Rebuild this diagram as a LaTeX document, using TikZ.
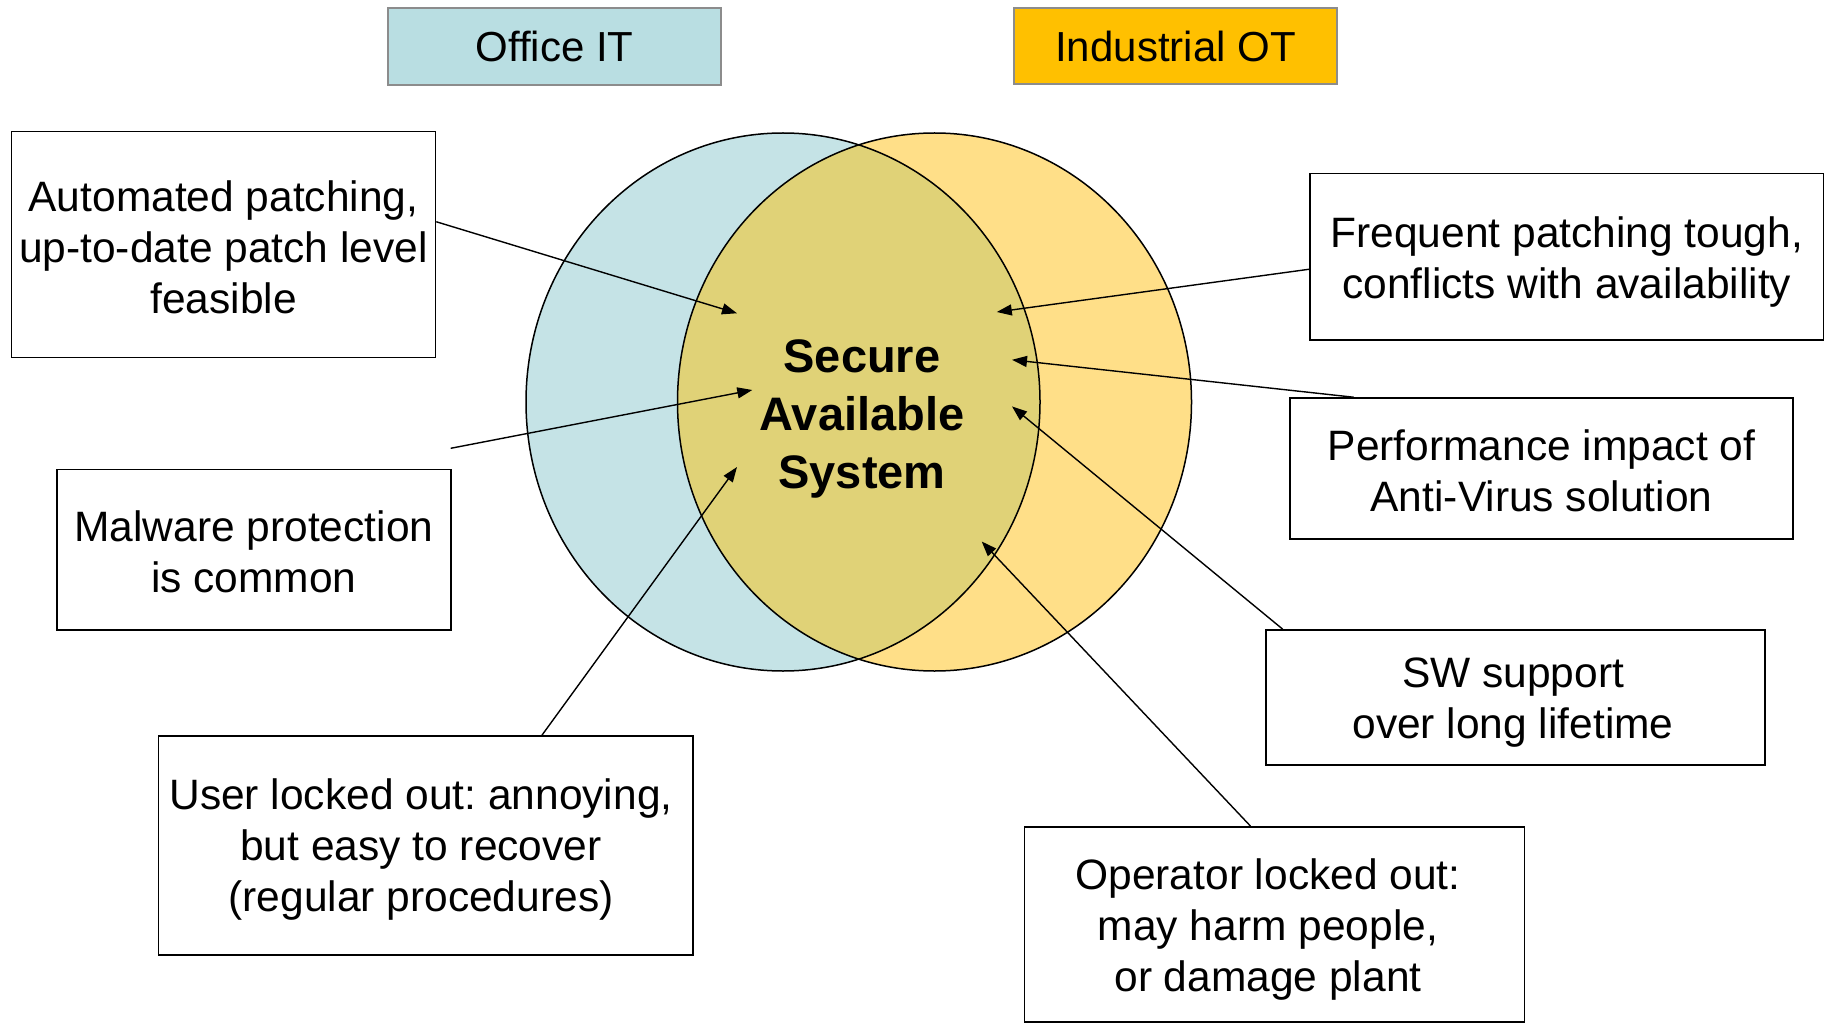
\documentclass[tikz,border=0pt]{standalone}
\usepackage{fontspec}
\setmainfont{Liberation Sans}
\usetikzlibrary{arrows.meta,calc}
\definecolor{itblue}{HTML}{C5E3E6}
\definecolor{ithead}{HTML}{B9DEE2}
\definecolor{otyellow}{HTML}{FFDF88}
\definecolor{othead}{HTML}{FFC000}
\definecolor{overlap}{HTML}{E0D277}
\definecolor{headline}{HTML}{8C8C8C}
\frenchspacing
\begin{document}
\begin{tikzpicture}[x=1pt,y=-1pt,
  txtbox/.style={draw=black, line width=1.5pt, fill=white, inner sep=0pt, align=center,
    font=\fontsize{42.5pt}{51pt}\selectfont},
  txtonly/.style={inner sep=0pt, align=center, font=\fontsize{42.5pt}{51pt}\selectfont},
  headbox/.style={draw=headline, line width=1.8pt, inner sep=0pt, align=center,
    font=\fontsize{42pt}{50pt}\selectfont},
  arr/.style={draw=black, line width=1.4pt, -{Triangle[length=15pt,width=11pt]}},
  ring/.style={draw=black, line width=1.5pt}]
\useasboundingbox (0,0) rectangle (1826,1024);
\fill[white] (0,0) rectangle (1826,1024);

% circles
\fill[itblue] (783,402) ellipse [x radius=257pt, y radius=269pt];
\fill[otyellow] (934.5,402) ellipse [x radius=257pt, y radius=269pt];
\begin{scope}
  \clip (783,402) ellipse [x radius=257pt, y radius=269pt];
  \fill[overlap] (934.5,402) ellipse [x radius=257pt, y radius=269pt];
\end{scope}
\draw[ring] (783,402) ellipse [x radius=257pt, y radius=269pt];
\draw[ring] (934.5,402) ellipse [x radius=257pt, y radius=269pt];

\node[align=center, inner sep=0pt, font=\bfseries\fontsize{47pt}{58pt}\selectfont] (sas) at (862,419) {Secure\\Available\\System};

% headers
\node[headbox, fill=ithead, minimum width=333pt, minimum height=77pt] (it) at (554.5,46.5) {Office IT};
\node[headbox, fill=othead, minimum width=323pt, minimum height=76pt] (ot) at (1175.5,46) {Industrial OT};

% boxes
\node[txtbox, minimum width=424pt, minimum height=226pt] (a) at (223.5,244.5) {};
\node[txtonly] (atxt) at (223.5,247) {Automated patching,\\up-to-date patch level\\feasible};
\node[txtbox, minimum width=393.7pt, minimum height=160.7pt] (m) at (253.9,549.7) {};
\node[txtonly] (mtxt) at (253.9,552) {Malware protection\\is common};
\node[txtbox, minimum width=534.5pt, minimum height=219pt] (u) at (425.6,845.5) {};
\node[txtonly] (utxt) at (421,850) {User locked out: annoying,\\but easy to recover\\(regular procedures)};
\node[txtbox, minimum width=513.6pt, minimum height=166.5pt] (f) at (1566.8,256.8) {};
\node[txtonly] (ftxt) at (1566.8,262.5) {Frequent patching tough,\\conflicts with availability};
\node[txtbox, minimum width=503pt, minimum height=141pt] (p) at (1541.5,468.5) {};
\node[txtonly] (ptxt) at (1541.5,471) {Performance impact of\\Anti-Virus solution};
\node[txtbox, minimum width=499pt, minimum height=135pt] (s) at (1515.5,697.5) {};
\node[txtonly] (stxt) at (1513,703) {SW support\\over long lifetime};
\node[txtbox, minimum width=499.6pt, minimum height=195.2pt] (o) at (1274.5,924.4) {};
\node[txtonly] (otxt) at (1268,930) {Operator locked out:\\may harm people,\\or damage plant};

% arrow tips and free ends
\coordinate (ta) at (737,313.3);
\coordinate (m0) at (450.7,448.3);
\coordinate (tm) at (752.3,390);
\coordinate (tu) at (737,467);
\coordinate (tf) at (996.8,312);
\coordinate (tp) at (1012,359.8);
\coordinate (ts) at (1012,406.4);
\coordinate (to) at (981.7,541.5);

\draw[arr] ($(a.north east)!0.40!(a.south east)$) -- (ta);
\draw[arr] (m0) -- (tm);
\draw[arr] ($(u.north west)!0.717!(u.north east)$) -- (tu);
\draw[arr] ($(f.north west)!0.574!(f.south west)$) -- (tf);
\draw[arr] ($(p.north west)!0.128!(p.north east)$) -- (tp);
\draw[arr] ($(s.north west)!0.035!(s.north east)$) -- (ts);
\draw[arr] ($(o.north west)!0.452!(o.north east)$) -- (to);
\end{tikzpicture}
\end{document}
